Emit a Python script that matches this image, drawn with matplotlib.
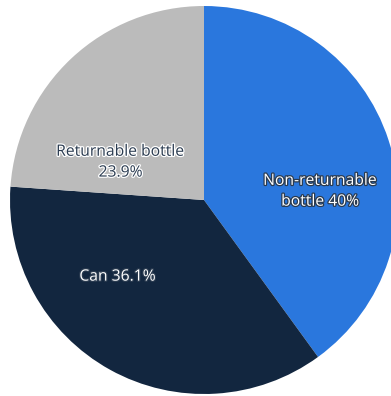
import matplotlib
matplotlib.use("Agg")
import matplotlib.pyplot as plt
import matplotlib.patheffects as pe

labels = ["Non-returnable bottle", "Can", "Returnable bottle"]
values = [40.0, 36.1, 23.9]
colors = ["#2A77DD", "#12263F", "#BBBBBB"]
label_texts = ["Non-returnable\nbottle 40%", "Can 36.1%", "Returnable bottle\n23.9%"]
label_pos = [(0.60, 0.045), (-0.445, -0.395), (-0.43, 0.195)]
text_colors = ["white", "white", "#2A3B50"]
stroke_colors = ["#2A3B50", "#2A3B50", "white"]

W, H = 391, 396
fig = plt.figure(figsize=(W / 100, H / 100), dpi=100)
cx, cy, r = 204, 200, 194
ax = fig.add_axes([(cx - r) / W, (H - cy - r) / H, 2 * r / W, 2 * r / H])
wedges, _ = ax.pie(values, colors=colors, startangle=90, counterclock=False,
                   radius=1, wedgeprops=dict(linewidth=0))
for w in wedges:
    w.set_clip_on(False)
ax.set_xlim(-1, 1)
ax.set_ylim(-1, 1)
ax.set_aspect("equal")
ax.axis("off")

for txt, (x, y), tc, sc in zip(label_texts, label_pos, text_colors, stroke_colors):
    ax.text(x, y, txt, ha="center", va="center", color=tc, fontsize=11.3,
            family=["Open Sans", "DejaVu Sans"], linespacing=1.4,
            path_effects=[pe.withStroke(linewidth=1.8, foreground=sc)])

fig.savefig("out.png", dpi=100)
